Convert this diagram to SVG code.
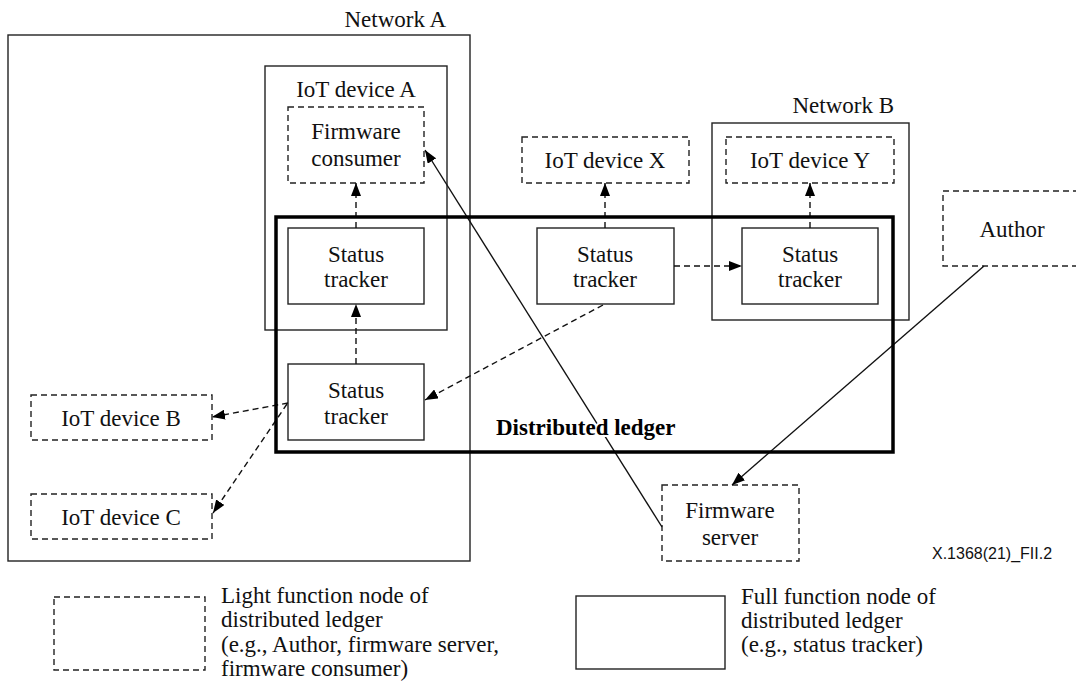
<svg xmlns="http://www.w3.org/2000/svg" width="1076" height="683" viewBox="0 0 1076 683">
<style>
text{font-family:"Liberation Serif","Times New Roman",serif;font-size:23px;fill:#111}
.c{text-anchor:middle}
.e{text-anchor:end}
.b{font-weight:bold;stroke:#fff;stroke-width:4;paint-order:stroke;fill:#000}
.code{font-family:"Liberation Sans",Arial,sans-serif;font-size:16px}
.solid{fill:#fff;stroke:#222;stroke-width:1.4}
.frame{fill:none;stroke:#222;stroke-width:1.4}
.dash{fill:#fff;stroke:#222;stroke-width:1.4;stroke-dasharray:6,4}
.thick{fill:none;stroke:#000;stroke-width:3.5}
.ln{fill:none;stroke:#111;stroke-width:1.4;marker-end:url(#ah)}
.dl{fill:none;stroke:#111;stroke-width:1.4;stroke-dasharray:6,4;marker-end:url(#ah)}
</style>
<defs>
<marker id="ah" markerUnits="userSpaceOnUse" markerWidth="14" markerHeight="10" refX="13" refY="5" orient="auto">
<path d="M0,0 L13,5 L0,10 z" fill="#000"/>
</marker>
</defs>
<rect width="1076" height="683" fill="#fff"/>

<g id="networkA">
<rect class="frame" x="8" y="35" width="462" height="526"/>
<text class="e" x="446" y="27">Network A</text>
</g>
<g id="networkB">
<rect class="frame" x="712" y="123" width="197" height="197"/>
<text class="e" x="894" y="113">Network B</text>
</g>
<g id="iotDeviceA">
<rect class="frame" x="265" y="66" width="182" height="264"/>
<text class="c" x="356" y="97">IoT device A</text>
</g>

<g id="firmwareConsumer">
<rect class="dash" x="288" y="107" width="136" height="76"/>
<text class="c" x="356" y="139">Firmware</text>
<text class="c" x="356" y="166">consumer</text>
</g>
<g id="trackerA">
<rect class="solid" x="288" y="228" width="136" height="76"/>
<text class="c" x="356" y="262">Status</text>
<text class="c" x="356" y="287">tracker</text>
</g>
<g id="trackerLedger">
<rect class="solid" x="288" y="364" width="136" height="76"/>
<text class="c" x="356" y="398">Status</text>
<text class="c" x="356" y="424">tracker</text>
</g>
<g id="iotDeviceB">
<rect class="dash" x="31" y="395" width="181" height="45"/>
<text class="c" x="121" y="426">IoT device B</text>
</g>
<g id="iotDeviceC">
<rect class="dash" x="31" y="494" width="181" height="45"/>
<text class="c" x="121" y="525">IoT device C</text>
</g>
<g id="iotDeviceX">
<rect class="dash" x="522" y="137" width="167" height="46"/>
<text class="c" x="605" y="168">IoT device X</text>
</g>
<g id="iotDeviceY">
<rect class="dash" x="726" y="137" width="168" height="46"/>
<text class="c" x="810" y="168">IoT device Y</text>
</g>
<g id="trackerX">
<rect class="solid" x="537" y="228" width="137" height="76"/>
<text class="c" x="605" y="262">Status</text>
<text class="c" x="605" y="287">tracker</text>
</g>
<g id="trackerY">
<rect class="solid" x="742" y="228" width="136" height="76"/>
<text class="c" x="810" y="262">Status</text>
<text class="c" x="810" y="287">tracker</text>
</g>
<g id="author">
<rect class="dash" x="943" y="191" width="140" height="75"/>
<text class="c" x="1012" y="237">Author</text>
</g>
<g id="firmwareServer">
<rect class="dash" x="662" y="485" width="137" height="76"/>
<text class="c" x="730" y="518">Firmware</text>
<text class="c" x="730" y="545">server</text>
</g>

<g id="connectors">
<line class="ln" x1="662" y1="527" x2="425" y2="150"/>
<line class="ln" x1="984" y1="266" x2="732" y2="485"/>
<line class="dl" x1="674" y1="266" x2="742" y2="266"/>
<line class="dl" x1="605" y1="228" x2="605" y2="183"/>
<line class="dl" x1="810" y1="228" x2="810" y2="183"/>
<line class="dl" x1="603" y1="305" x2="425" y2="400"/>
<line class="dl" x1="356" y1="364" x2="356" y2="304"/>
<line class="dl" x1="356" y1="228" x2="356" y2="183"/>
<line class="dl" x1="288" y1="403" x2="212" y2="417"/>
<line class="dl" x1="287" y1="404" x2="213" y2="513"/>
</g>

<g id="ledger">
<rect class="thick" x="276" y="217" width="617" height="235"/>
<text class="b" x="496" y="435">Distributed ledger</text>
</g>

<text class="code" x="932" y="559">X.1368(21)_FII.2</text>

<g id="legendLight">
<rect class="dash" x="54" y="597" width="151" height="73"/>
<text x="221" y="603">Light function node of</text>
<text x="221" y="627">distributed ledger</text>
<text x="221" y="652">(e.g., Author, firmware server,</text>
<text x="221" y="676">firmware consumer)</text>
</g>
<g id="legendFull">
<rect class="solid" x="576" y="596" width="149" height="73"/>
<text x="741" y="604">Full function node of</text>
<text x="741" y="628">distributed ledger</text>
<text x="741" y="652">(e.g., status tracker)</text>
</g>
</svg>
